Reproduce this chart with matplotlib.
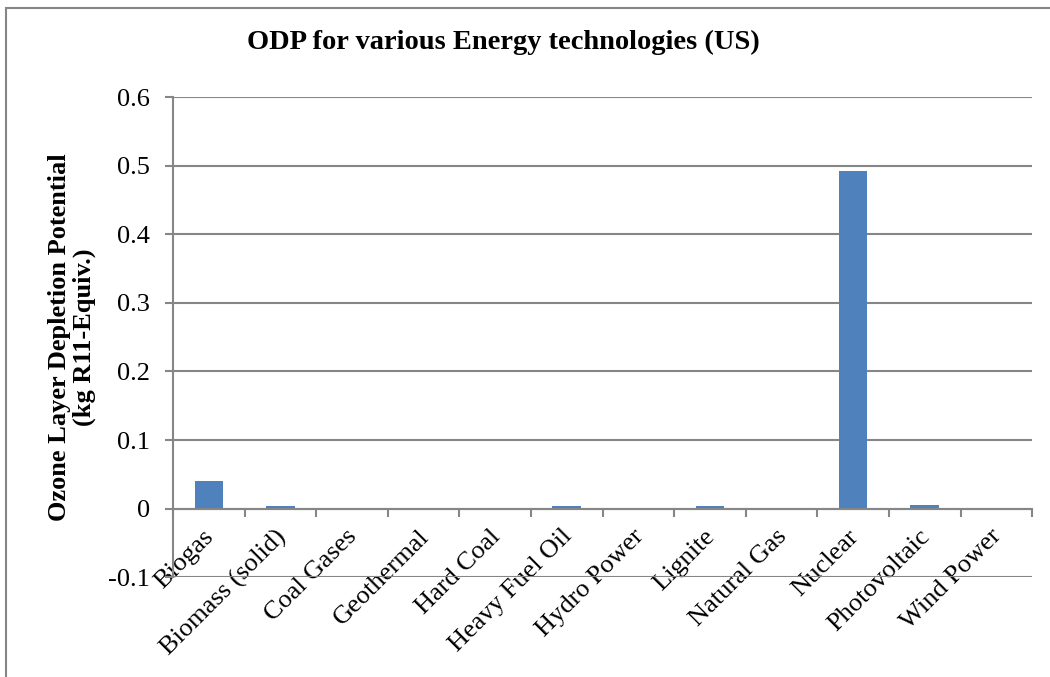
import numpy as np
import matplotlib
matplotlib.use("Agg")
import matplotlib.pyplot as plt
import matplotlib.transforms as mtransforms
from matplotlib.patches import Rectangle
from matplotlib.ticker import FixedLocator

plt.rcParams['font.family'] = ['Liberation Serif', 'DejaVu Serif']

technologies = ["Biogas", "Biomass (solid)", "Coal Gases", "Geothermal", "Hard Coal",
                "Heavy Fuel Oil", "Hydro Power", "Lignite", "Natural Gas", "Nuclear",
                "Photovoltaic", "Wind Power"]
odp = [0.040, 0.004, 0.0002, 0.0001, 0.0002, 0.0035, 0.0001, 0.004, 0.0003,
       0.493, 0.0055, 0.001]
y_ticks = [-0.1, 0.0, 0.1, 0.2, 0.3, 0.4, 0.5, 0.6]

grey = "#868686"
bar_color = "#4F81BD"

fig = plt.figure(figsize=(10.5, 6.77), dpi=100)
ax = fig.add_axes([0.1648, 0.1477, 0.983 - 0.1648, 0.856 - 0.1477])

# outer chart frame (only left/top edges fall inside the image)
fig.patches.append(Rectangle((6 / 1050, -0.05), 1.2, 1 - 8 / 677 + 0.05,
                             transform=fig.transFigure, fill=False,
                             edgecolor=grey, linewidth=1.5))

x = np.arange(len(technologies))
ax.bar(x, odp, width=0.4, color=bar_color, zorder=3)

ax.set_xlim(-0.5, len(technologies) - 0.5)
ax.set_ylim(-0.1, 0.6)
ax.set_yticks(y_ticks)
ax.set_yticklabels([f"{v:g}" for v in y_ticks])

ax.grid(axis='y', color=grey, linewidth=1.5, zorder=0)
for side in ("top", "right"):
    ax.spines[side].set_visible(False)
for side in ("left", "bottom"):
    ax.spines[side].set_color(grey)
    ax.spines[side].set_linewidth(1.5)
ax.spines['bottom'].set_position(('data', 0))
ax.spines['bottom'].set_zorder(4)

# category boundaries carry the tick marks, centres carry the labels
ax.xaxis.set_major_locator(FixedLocator(np.arange(-0.5, len(technologies), 1.0)))
ax.xaxis.set_major_formatter(plt.NullFormatter())
ax.xaxis.set_minor_locator(FixedLocator(x))
ax.set_xticklabels(technologies, minor=True, rotation=45, ha='right', va='top',
                   rotation_mode='anchor', fontsize=19)
ax.tick_params(axis='x', which='major', direction='out', length=5.5, width=1.5, color=grey)
ax.tick_params(axis='x', which='minor', length=0, pad=10)
ax.tick_params(axis='y', direction='out', length=5.5, width=1.5, color=grey,
               labelsize=19, pad=11)

shift = mtransforms.ScaledTranslation(-6 / 100, -3 / 100, fig.dpi_scale_trans)
for lab in ax.get_xticklabels(minor=True):
    lab.set_transform(lab.get_transform() + shift)

ax.set_ylabel("Ozone Layer Depletion Potential\n(kg R11-Equiv.)", fontsize=19,
              fontweight='bold', linespacing=1.1, labelpad=9)
fig.text(0.479, 1 - 42 / 677, "ODP for various Energy technologies (US)", ha='center',
         va='center', fontsize=20.5, fontweight='bold')

fig.savefig("out.png", dpi=100)
